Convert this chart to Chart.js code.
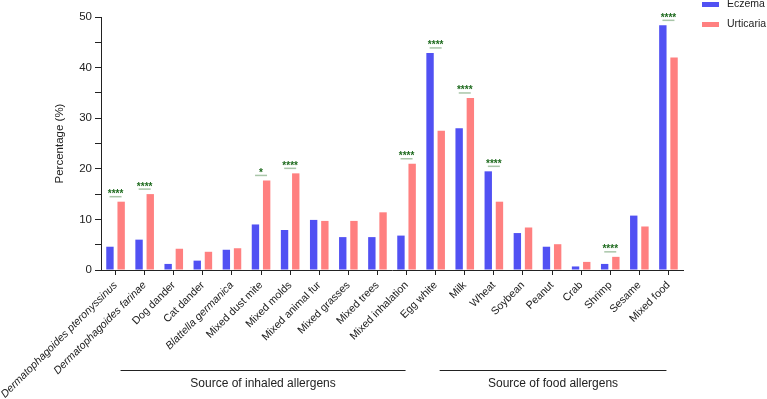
<!DOCTYPE html>
<html>
<head>
<meta charset="utf-8">
<script src="https://cdn.jsdelivr.net/npm/chart.js@4/dist/chart.umd.min.js"></script>
<style>
  html, body { margin: 0; padding: 0; background: #fff; overflow: hidden; }
  #wrap { width: 767px; height: 399px; }
</style>
</head>
<body>
<div id="wrap"><canvas id="allergenChart" width="767" height="399"></canvas></div>
<script>
// --- Data ---
const categories = [
    'Dermatophagoides pteronyssinus', 'Dermatophagoides farinae', 'Dog dander', 'Cat dander',
    'Blattella germanica', 'Mixed dust mite', 'Mixed molds', 'Mixed animal fur', 'Mixed grasses',
    'Mixed trees', 'Mixed inhalation', 'Egg white', 'Milk', 'Wheat', 'Soybean', 'Peanut',
    'Crab', 'Shrimp', 'Sesame', 'Mixed food'
];
const eczemaValues = [4.6, 6.0, 1.2, 1.85, 4.0, 9.0, 7.9, 9.9, 6.5, 6.5, 6.8,
    42.9, 28.0, 19.5, 7.3, 4.6, 0.7, 1.2, 10.75, 48.35];
const urticariaValues = [13.5, 15.0, 4.2, 3.6, 4.3, 17.7, 19.1, 9.7, 9.7, 11.4, 21.0,
    27.5, 34.0, 13.5, 8.4, 5.1, 1.6, 2.6, 8.6, 42.0];
const significance = ['****', '****', '', '', '', '*', '****', '', '', '', '****',
    '****', '****', '****', '', '', '', '****', '', '****'];
const italicLabels = [0, 1, 4];
const groupLabels = ['Source of inhaled allergens', 'Source of food allergens'];
const groupRanges = [[0, 10], [11, 19]];

const FONT = '"Liberation Sans", Arial, sans-serif';
const BLUE = '#5151f3';
const PINK = '#ff8080';

// --- Plugins: significance marks, group brackets, legend ---
const sigPlugin = {
    id: 'sigMarks',
    afterDatasetsDraw(chart) {
        const ctx = chart.ctx;
        const xs = chart.scales.x;
        const m0 = chart.getDatasetMeta(0);
        const m1 = chart.getDatasetMeta(1);
        ctx.save();
        significance.forEach((s, i) => {
            if (!s) return;
            const x = xs.getPixelForValue(i);
            const top = Math.min(m0.data[i].y, m1.data[i].y);
            const lineY = top - 5;
            ctx.strokeStyle = '#a9c6a9';
            ctx.lineWidth = 1.5;
            ctx.beginPath();
            ctx.moveTo(x - 6, lineY);
            ctx.lineTo(x + 6, lineY);
            ctx.stroke();
            ctx.fillStyle = '#1f6b1f';
            ctx.font = 'bold 10px ' + FONT;
            ctx.textAlign = 'center';
            ctx.textBaseline = 'alphabetic';
            ctx.fillText(s, x, lineY + 0.5);
        });
        ctx.restore();
    }
};

const groupPlugin = {
    id: 'groupBrackets',
    afterDraw(chart) {
        const ctx = chart.ctx;
        const xs = chart.scales.x;
        ctx.save();
        ctx.strokeStyle = '#222';
        ctx.lineWidth = 1;
        ctx.fillStyle = '#222';
        ctx.font = '12px ' + FONT;
        ctx.textAlign = 'center';
        ctx.textBaseline = 'middle';
        const ends = [[5, -1], [4, -2]];
        groupRanges.forEach((r, g) => {
            const x1 = xs.getPixelForValue(r[0]) + ends[g][0];
            const x2 = xs.getPixelForValue(r[1]) + ends[g][1];
            ctx.beginPath();
            ctx.moveTo(x1, 370.5);
            ctx.lineTo(x2, 370.5);
            ctx.stroke();
            ctx.fillText(groupLabels[g], (x1 + x2) / 2, 384);
        });
        ctx.restore();
    }
};

const legendPlugin = {
    id: 'sideLegend',
    afterDraw(chart) {
        const ctx = chart.ctx;
        ctx.save();
        ctx.font = '10.5px ' + FONT;
        ctx.textBaseline = 'middle';
        ctx.textAlign = 'left';
        chart.data.datasets.forEach((ds, i) => {
            const y = 4.5 + i * 20;
            ctx.fillStyle = ds.backgroundColor;
            ctx.fillRect(702, y - 2.5, 17, 5);
            ctx.fillStyle = '#222';
            ctx.fillText(ds.label, 727, y);
        });
        ctx.restore();
    }
};

// --- Chart ---
function initAllergenChart() {
    const el = document.getElementById('allergenChart');
    if (!el) return;
    new Chart(el.getContext('2d'), {
        type: 'bar',
        data: {
            labels: categories,
            datasets: [
                { label: 'Eczema', data: eczemaValues, backgroundColor: BLUE,
                  categoryPercentage: 0.77, barPercentage: 0.66 },
                { label: 'Urticaria', data: urticariaValues, backgroundColor: PINK,
                  categoryPercentage: 0.77, barPercentage: 0.66 }
            ]
        },
        options: {
            responsive: false,
            animation: false,
            layout: { padding: { left: 0, right: 84, top: 17, bottom: 0 } },
            plugins: { legend: { display: false }, tooltip: { enabled: false } },
            scales: {
                x: {
                    grid: { display: true, drawOnChartArea: false, offset: false, tickLength: 5, color: '#222' },
                    border: { display: true, color: '#222', width: 1 },
                    ticks: {
                        autoSkip: false, maxRotation: 45, minRotation: 45, padding: 4, color: '#222',
                        font: (c) => ({ family: FONT, size: 10.7, style: italicLabels.includes(c.index) ? 'italic' : 'normal' })
                    },
                    afterFit(scale) {
                        scale.height = 129;
                        scale.paddingLeft = 0;
                        scale.paddingRight = 0;
                    }
                },
                y: {
                    min: 0, max: 50,
                    grid: { display: true, drawOnChartArea: false, tickLength: 6, color: '#222' },
                    border: { display: true, color: '#222', width: 1 },
                    ticks: {
                        stepSize: 5, padding: 3, color: '#222',
                        font: { family: FONT, size: 11.5 },
                        callback: (v) => (v % 10 === 0 ? v : '')
                    },
                    title: {
                        display: true, text: 'Percentage (%)', color: '#222',
                        font: { family: FONT, size: 11.5 },
                        padding: { top: 53, bottom: 0 }
                    },
                    afterFit(scale) {
                        scale.width = 101;
                        scale.paddingTop = 0;
                        scale.paddingBottom = 0;
                    }
                }
            }
        },
        plugins: [sigPlugin, groupPlugin, legendPlugin]
    });
}

document.addEventListener('DOMContentLoaded', () => {
    initAllergenChart();
});
</script>
</body>
</html>
